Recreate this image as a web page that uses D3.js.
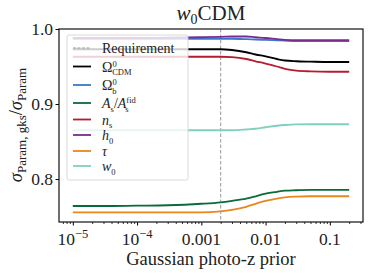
<!DOCTYPE html>
<html><head><meta charset="utf-8">
<script src="https://cdn.jsdelivr.net/npm/d3@7"></script>
<style>body{margin:0;background:#fff}svg{display:block}text{font-family:"Liberation Serif","DejaVu Serif",serif;fill:#222}</style>
</head><body><svg id="c" width="374" height="273"></svg>
<script>
const priors = [1e-5, 3e-5, 1e-4, 3e-4, 1e-3, 2e-3, 3e-3, 5e-3, 7e-3, 1e-2, 1.5e-2, 2e-2, 3e-2, 5e-2, 0.1, 0.2];
const omegaCDM = [0.973,0.973,0.973,0.973,0.973,0.973,0.972,0.969,0.966,0.9635,0.960,0.958,0.957,0.9565,0.956,0.956];
const omegaB   = [0.987,0.987,0.987,0.987,0.987,0.987,0.987,0.9865,0.986,0.9855,0.985,0.9845,0.984,0.984,0.984,0.984];
const As       = [0.764,0.764,0.7645,0.765,0.767,0.769,0.771,0.774,0.777,0.7805,0.783,0.7845,0.785,0.7855,0.7855,0.7855];
const ns       = [0.963,0.963,0.963,0.963,0.963,0.963,0.9625,0.960,0.957,0.954,0.950,0.947,0.9445,0.9435,0.943,0.943];
const h0       = [0.988,0.988,0.988,0.9885,0.989,0.9895,0.990,0.990,0.989,0.988,0.9865,0.9855,0.985,0.985,0.985,0.985];
const tau      = [0.7555,0.7555,0.7555,0.7555,0.7555,0.757,0.759,0.763,0.767,0.771,0.774,0.7755,0.7765,0.777,0.777,0.777];
const w0       = [0.865,0.865,0.865,0.865,0.865,0.865,0.865,0.866,0.867,0.869,0.871,0.872,0.8728,0.873,0.873,0.873];
const requirement = 0.002;
const xTicks = [1e-5, 1e-4, 1e-3, 1e-2, 0.1];
const xTickLabels = ["10^-5", "10^-4", "0.001", "0.01", "0.1"];
const yTicks = [0.8, 0.9, 1.0];
const yTickLabels = ["0.8", "0.9", "1.0"];

const series = [
  {key:"omegaCDM", vals:omegaCDM, color:"#000000"},
  {key:"omegaB", vals:omegaB, color:"#3a78c9"},
  {key:"As", vals:As, color:"#0a6b3a"},
  {key:"ns", vals:ns, color:"#b51c30"},
  {key:"h0", vals:h0, color:"#7b2a90"},
  {key:"tau", vals:tau, color:"#e8871e"},
  {key:"w0", vals:w0, color:"#80d0c0"}
];

const svg = d3.select("#c");
const L=59, R=363, T=29, B=222;
const x = d3.scaleLog().domain([Math.pow(10,-5.215), Math.pow(10,-0.484)]).range([L,R]);
const y = d3.scaleLinear().domain([0.7427, 1.0]).range([B,T]);

// lines
const line = d3.line().x((d,i)=>x(priors[i])).y(d=>y(d)).curve(d3.curveMonotoneX);
const g = svg.append("g");
g.append("line").attr("x1",x(requirement)).attr("x2",x(requirement)).attr("y1",T).attr("y2",B)
  .attr("stroke","#999").attr("stroke-width",1).attr("stroke-dasharray","3.5,2");
series.forEach(s=>{
  g.append("path").attr("d",line(s.vals)).attr("fill","none").attr("stroke",s.color).attr("stroke-width",1.8);
});

// axes
const minor = [];
for (let e=-6;e<=0;e++) for (let m=2;m<=9;m++){ const v=m*Math.pow(10,e); if (v>=x.domain()[0] && v<=x.domain()[1]) minor.push(v); }
svg.append("g").attr("transform",`translate(0,${B})`).call(d3.axisBottom(x).tickValues(minor).tickFormat(()=>"").tickSize(2))
  .call(a=>a.select(".domain").remove()).selectAll("line").attr("stroke","#000").attr("stroke-width",0.8);
svg.append("g").attr("transform",`translate(0,${B})`).call(d3.axisBottom(x).tickValues(xTicks).tickFormat(()=>"").tickSize(3.5))
  .call(a=>a.select(".domain").remove()).selectAll("line").attr("stroke","#000").attr("stroke-width",1);
svg.append("g").attr("transform",`translate(${L},0)`).call(d3.axisLeft(y).tickValues(yTicks).tickFormat(()=>"").tickSize(3.5))
  .call(a=>a.select(".domain").remove()).selectAll("line").attr("stroke","#000").attr("stroke-width",1);

// tick labels
xTicks.forEach((v,i)=>{
  const lab = xTickLabels[i];
  const t = svg.append("text").attr("x",x(v)).attr("y",245).attr("text-anchor","middle").attr("font-size",17.5);
  if (lab.startsWith("10^")) {
    t.append("tspan").text("10");
    t.append("tspan").attr("dy",-7).attr("font-size",12.5).text("\u2212"+lab.slice(4));
  } else t.text(lab);
});
yTicks.forEach((v,i)=>{
  svg.append("text").attr("x",L-6).attr("y",y(v)+6).attr("text-anchor","end").attr("font-size",17.5).text(yTickLabels[i]);
});

// frame
svg.append("rect").attr("x",L).attr("y",T).attr("width",R-L).attr("height",B-T).attr("fill","none").attr("stroke","#111").attr("stroke-width",1.2);

// legend
const lg = svg.append("g");
lg.append("rect").attr("x",67).attr("y",35).attr("width",121).attr("height",145).attr("rx",2)
  .attr("fill","#fff").attr("fill-opacity",0.8).attr("stroke","#d0d0d0").attr("stroke-width",0.8);
const legendItems = [
  {color:"#999", dash:"3,1.5", label:[["Requirement",null]]},
  {color:"#000000", label:[["\u03A9","m"],["0","sup"],["CDM","sub"]]},
  {color:"#3a78c9", label:[["\u03A9","m"],["0","sup"],["b","sub"]]},
  {color:"#0a6b3a", label:[["A","i"],["s","sub"],["/",null],["A","i"],["fid","sup"],["s","sub2"]]},
  {color:"#b51c30", label:[["n","i"],["s","sub"]]},
  {color:"#7b2a90", label:[["h","i"],["0","sub"]]},
  {color:"#e8871e", label:[["\u03C4","i"]]},
  {color:"#80d0c0", label:[["w","i"],["0","sub"]]}
];
const legendY = [48, 66.5, 85, 103, 119.5, 135, 151, 166];
const SUP = -5, SUB = 3.8, SF = 8.5;
legendItems.forEach((it,i)=>{
  const yy = legendY[i];
  lg.append("line").attr("x1",73).attr("x2",91).attr("y1",yy).attr("y2",yy).attr("stroke",it.color)
    .attr("stroke-width",it.dash?1:1.8).attr("stroke-dasharray",it.dash||null);
  const t = lg.append("text").attr("x",102).attr("y",yy+5).attr("font-size",14);
  let shift=0;
  it.label.forEach(([s,k],j)=>{
    const ts = t.append("tspan").text(s);
    if (k==="i") { ts.attr("font-style","italic"); if (shift){ts.attr("dy",-shift); shift=0;} }
    else if (k==="sup") { ts.attr("font-size",SF).attr("dy",SUP-shift); shift=SUP; }
    else if (k==="sub") { ts.attr("font-size",SF).attr("dy",SUB-shift); shift=SUB;
      if (j>0 && it.label[j-1][1]==="sup") { ts.attr("dx",-4.5); } }
    else if (k==="sub2") { ts.attr("font-size",SF).attr("dy",SUB-SUP).attr("dx",-10.5); shift=SUB; }
    else { if (shift){ts.attr("dy",-shift); shift=0;} }
  });
});

// title
const tt = svg.append("text").attr("x",(L+R)/2).attr("y",20).attr("text-anchor","middle").attr("font-size",21);
tt.append("tspan").attr("font-style","italic").text("w");
tt.append("tspan").attr("font-size",14).attr("dy",4).text("0");
tt.append("tspan").attr("dy",-4).text("CDM");

// axis labels
svg.append("text").attr("x",(L+R)/2).attr("y",265).attr("text-anchor","middle").attr("font-size",18.5).text("Gaussian photo-z prior");
const yl = svg.append("text").attr("transform","translate(22,125) rotate(-90)").attr("text-anchor","middle").attr("font-size",18.5);
yl.append("tspan").attr("font-style","italic").text("\u03C3");
yl.append("tspan").attr("font-size",13).attr("dy",4).text("Param, gks");
yl.append("tspan").attr("dy",-4).text("/");
yl.append("tspan").attr("font-style","italic").text("\u03C3");
yl.append("tspan").attr("font-size",13).attr("dy",4).text("Param");
</script></body></html>
